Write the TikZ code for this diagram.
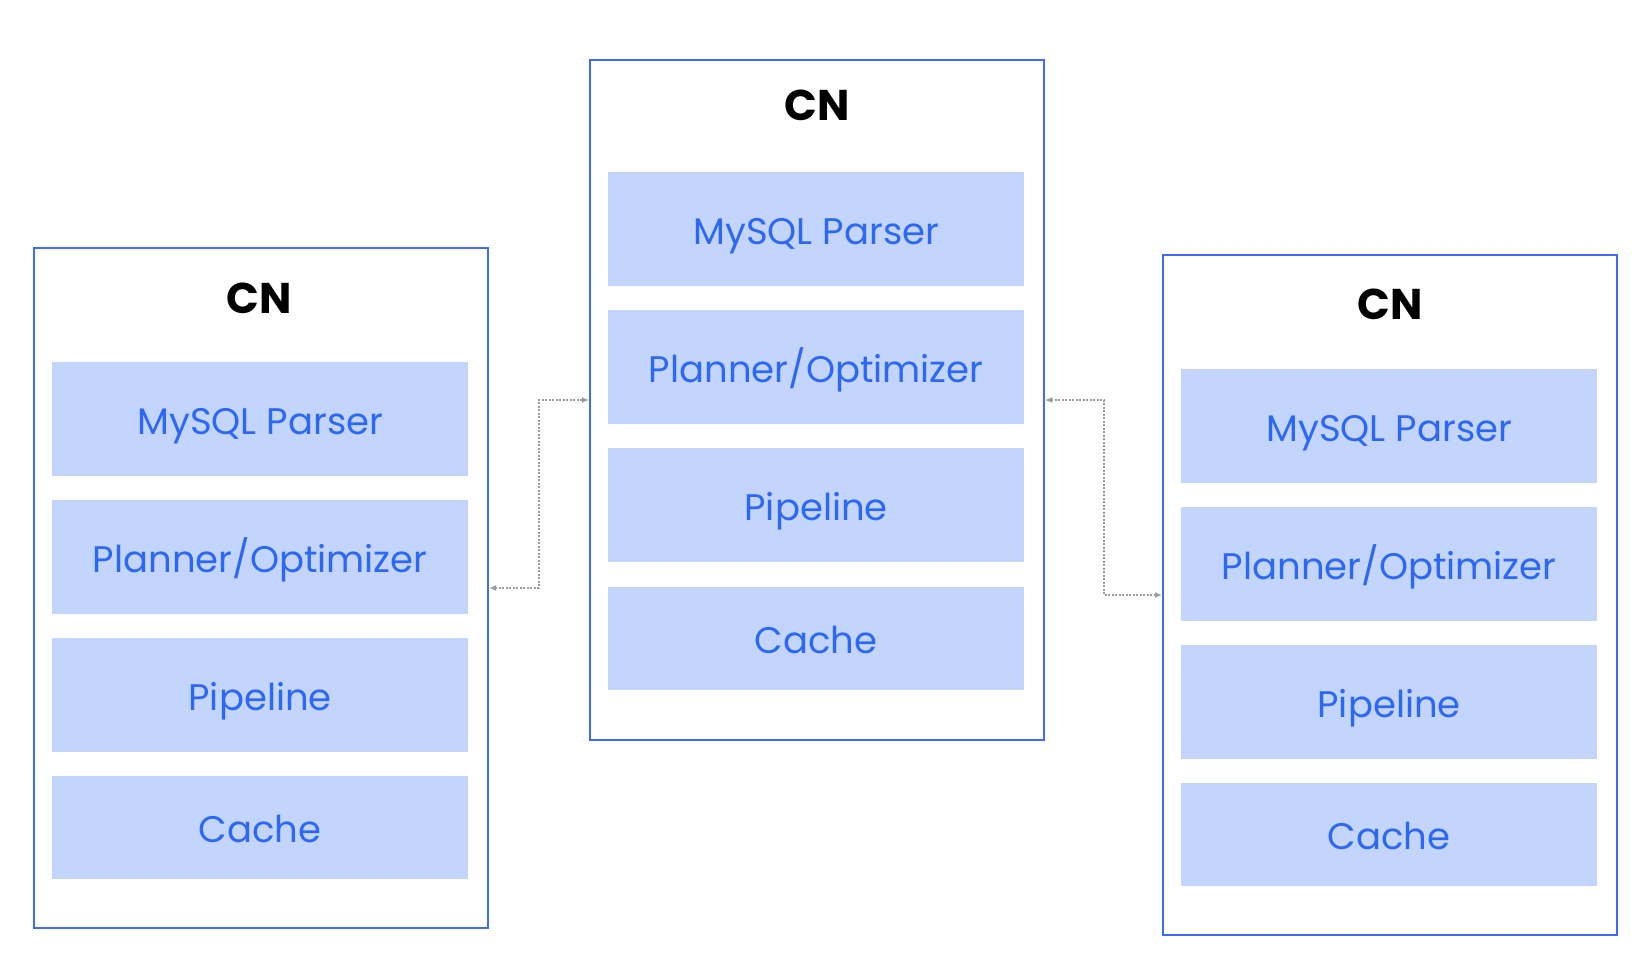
\documentclass[tikz,border=0pt]{standalone}
\usepackage{fontspec}
\setmainfont{Poppins}
\usetikzlibrary{arrows.meta,positioning}
\definecolor{edgeblue}{HTML}{3E6DF5}
\definecolor{fillblue}{HTML}{C3D5FD}
\definecolor{textblue}{HTML}{2D68F4}
\definecolor{conngray}{HTML}{9A9BA3}
\tikzset{
  outerbox/.style={draw=edgeblue, line width=2pt, fill=white, minimum width=454pt, minimum height=680pt, anchor=north west, inner sep=0pt},
  innerbox/.style={fill=fillblue, minimum width=416pt, anchor=north west, inner sep=0pt, text=textblue, font=\fontsize{37}{40}\selectfont, text height=30pt, text depth=0pt},
  tallbox/.style={innerbox, minimum height=114pt},
  cachebox/.style={innerbox, minimum height=103pt},
  title/.style={font=\fontsize{43}{46}\selectfont\bfseries, text=black, anchor=center},
  conn/.style={draw=conngray, line width=1.8pt, dash pattern=on 2pt off 1.5pt, {Latex[length=7pt,width=6pt]}-{Latex[length=7pt,width=6pt]}}
}
\begin{document}
\begin{tikzpicture}[x=1pt,y=-1pt]
\useasboundingbox (0,0) rectangle (1641,970);
\fill[white] (0,0) rectangle (1641,970);
% left CN
\node[outerbox] (L) at (33,247) {};
\node[title] (Lt) at (259,298) {CN};
\node[tallbox] (Lp) at (52,362) {MySQL Parser};
\node[tallbox] (Lo) at (52,500) {Planner/Optimizer};
\node[tallbox] (Li) at (52,638) {Pipeline};
\node[cachebox] (Lc) at (52,776) {Cache};
% middle CN
\node[outerbox] (M) at (589,59) {};
\node[title] (Mt) at (817,105) {CN};
\node[tallbox] (Mp) at (608,172) {MySQL Parser};
\node[tallbox] (Mo) at (608,310) {Planner/Optimizer};
\node[tallbox] (Mi) at (608,448) {Pipeline};
\node[cachebox] (Mc) at (608,587) {Cache};
% right CN
\node[outerbox] (R) at (1162,254) {};
\node[title] (Rt) at (1390,304) {CN};
\node[tallbox] (Rp) at (1181,369) {MySQL Parser};
\node[tallbox] (Ro) at (1181,507) {Planner/Optimizer};
\node[tallbox] (Ri) at (1181,645) {Pipeline};
\node[cachebox] (Rc) at (1181,783) {Cache};
% connectors
\draw[conn] (L.east) -- ++(50,0) |- (M.west);
\draw[conn] (M.east) -- ++(59,0) |- (R.west);
\end{tikzpicture}
\end{document}
